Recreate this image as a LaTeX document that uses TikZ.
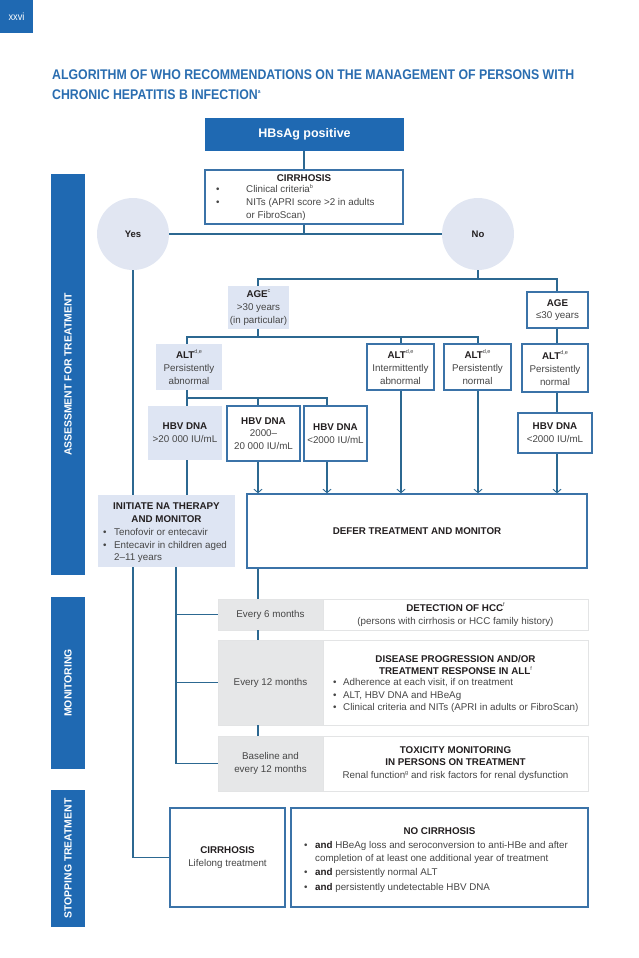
\documentclass[tikz,border=0pt]{standalone}
\usepackage{fontspec}
\setmainfont{Liberation Sans}
\newfontfamily\condfont[FakeStretch=0.88]{Liberation Sans}
\usetikzlibrary{arrows.meta}
\definecolor{whob}{HTML}{1F69B2}
\definecolor{titlec}{HTML}{2A6DB0}
\definecolor{linec}{HTML}{2C6891}
\definecolor{bord}{HTML}{3B73A8}
\definecolor{lightf}{HTML}{DEE5F3}
\definecolor{circf}{HTML}{E1E6F2}
\definecolor{grayf}{HTML}{E6E7E8}
\definecolor{grayb}{HTML}{E3E4E5}
\definecolor{txt}{HTML}{464646}
\definecolor{dark}{HTML}{231F20}
\newcommand{\bodyfs}{\fontsize{9.8}{12.8}\selectfont}
\newcommand{\hd}[1]{\textbf{\textcolor{dark}{#1}}}
\newcommand{\bul}[1]{\makebox[#1][l]{\textbullet}}
\newcommand{\sups}[1]{\raisebox{0.9ex}{\fontsize{5.5}{6}\selectfont #1}}
\begin{document}
\begin{tikzpicture}[x=1pt,y=-1pt,
  conn/.style={draw=linec, line width=1.1pt},
  arr/.style={conn, -{Straight Barb[length=3.5pt,width=8pt,line width=0.9pt]}},
  wbox/.style={draw=bord, line width=1.4pt, fill=white, inner sep=0pt, align=center, font=\bodyfs, text=txt},
  lbox/.style={fill=lightf, inner sep=0pt, align=center, font=\bodyfs, text=txt},
  gbox/.style={fill=grayf, draw=grayb, line width=0.8pt, inner sep=0pt, align=center, font=\bodyfs, text=txt},
  mbox/.style={fill=white, draw=grayb, line width=1pt, inner sep=0pt, align=center, font=\bodyfs, text=txt},
  txtnode/.style={inner sep=0pt, font=\bodyfs, text=txt},
  bar/.style={fill=whob, rotate=90, inner sep=0pt, minimum height=34pt, text=white, font=\bfseries\fontsize{10.4}{12}\selectfont},
  circ/.style={circle, fill=circf, minimum size=72pt, inner sep=0pt, text=dark, font=\bfseries\fontsize{9.5}{11}\selectfont}
]
\useasboundingbox (0,0) rectangle (638,958);

% page number and title
\node[fill=whob, minimum width=33pt, minimum height=33pt, inner sep=0pt, text=white, font=\condfont\fontsize{10.5}{11}\selectfont] (pg) at (16.5,17) {xxvi};
\node[anchor=west, inner sep=0pt, align=left, text=titlec, font=\condfont\bfseries\fontsize{14}{20}\selectfont] (title) at (52,85)
  {ALGORITHM OF WHO RECOMMENDATIONS ON THE MANAGEMENT OF PERSONS WITH\\CHRONIC HEPATITIS B INFECTION\sups{a}};

% side bars
\node[bar, minimum width=401pt] (bar1) at (68,374.5) {ASSESSMENT FOR TREATMENT};
\node[bar, minimum width=172pt] (bar2) at (68,683) {MONITORING};
\node[bar, minimum width=137pt] (bar3) at (68,858.5) {STOPPING TREATMENT};

% x positions of vertical connectors
\coordinate (xa) at (133,0);
\coordinate (xb) at (187,0);
\coordinate (xc) at (258,0);
\coordinate (xd) at (327,0);
\coordinate (xe) at (401,0);
\coordinate (xf) at (478,0);
\coordinate (xg) at (557,0);
\coordinate (xh) at (176,0);
\coordinate (xt) at (304,0);
\coordinate (h1) at (0,279);
\coordinate (h2) at (0,337);
\coordinate (h3) at (0,398);

% top
\node[fill=whob, minimum width=199pt, minimum height=33pt, inner sep=0pt, text=white, font=\bfseries\fontsize{12.5}{14}\selectfont] (hbs) at (304.5,134.5) {HBsAg positive};
\node[wbox, minimum width=198pt, minimum height=54pt] (cirr) at (304,197) {};
\node[txtnode] (cirrh) at (304,178) {\hd{CIRRHOSIS}};
\node[txtnode, anchor=north west, align=left] (cirrl) at (216,184)
  {\bul{30pt}Clinical criteria\sups{b}\\\bul{30pt}NITs (APRI score >2 in adults\\\hspace*{30pt}or FibroScan)};
\node[circ] (yes) at (133,234) {Yes};
\node[circ] (no) at (478,234) {No};
\draw[conn] (hbs.south -| xt) -- (cirr.north -| xt);
\draw[conn] (yes.east) -- (no.west);
\draw[conn] (cirr.south -| xt) -- (xt |- yes.east);

% age
\node[lbox, minimum width=61pt, minimum height=43pt] (age1) at (258.5,307.5) {\hd{AGE}\sups{c}\\>30 years\\(in particular)};
\node[wbox, minimum width=61pt, minimum height=36pt] (age2) at (557.5,310) {\hd{AGE}\\≤30 years};
\draw[conn] (no.south) -- (no.south |- h1);
\draw[conn] (age1.north -| xc) |- (xg |- h1) -- (age2.north -| xg);

% ALT
\node[lbox, minimum width=66pt, minimum height=46pt] (alt1) at (189,367) {\hd{ALT}\sups{d,e}\\Persistently\\abnormal};
\node[wbox, minimum width=67pt, minimum height=46pt] (alt2) at (400.5,367) {\hd{ALT}\sups{d,e}\\Intermittently\\abnormal};
\node[wbox, minimum width=67pt, minimum height=46pt] (alt3) at (477.5,367) {\hd{ALT}\sups{d,e}\\Persistently\\normal};
\node[wbox, minimum width=66pt, minimum height=48pt] (alt4) at (555,368) {\hd{ALT}\sups{d,e}\\Persistently\\normal};
\draw[conn] (age1.south -| xc) -- (xc |- h2);
\draw[conn] (alt1.north -| xb) |- (xf |- h2) -- (alt3.north -| xf);
\draw[conn] (xe |- h2) -- (alt2.north -| xe);
\draw[conn] (age2.south -| xg) -- (alt4.north -| xg);

% HBV DNA
\node[lbox, minimum width=74pt, minimum height=54pt] (hbv1) at (185,433) {\hd{HBV DNA}\\>20 000 IU/mL};
\node[wbox, minimum width=73pt, minimum height=55pt] (hbv2) at (263.5,433.5) {\hd{HBV DNA}\\2000–\\20 000 IU/mL};
\node[wbox, minimum width=63pt, minimum height=55pt] (hbv3) at (335.5,433.5) {\hd{HBV DNA}\\<2000 IU/mL};
\node[wbox, minimum width=74pt, minimum height=40pt] (hbv4) at (555,433) {\hd{HBV DNA}\\<2000 IU/mL};
\draw[conn] (alt1.south -| xb) -- (xb |- h3);
\draw[conn] (hbv1.north -| xb) |- (xd |- h3) -- (hbv3.north -| xd);
\draw[conn] (xc |- h3) -- (hbv2.north -| xc);
\draw[conn] (alt4.south -| xg) -- (hbv4.north -| xg);

% initiate / defer
\node[lbox, minimum width=137pt, minimum height=72pt] (init) at (166.5,531) {};
\node[txtnode, align=center] (inith) at (166.5,513) {\hd{INITIATE NA THERAPY}\\\hd{AND MONITOR}};
\node[txtnode, anchor=north west, align=left] (initl) at (103,528)
  {\bul{11pt}Tenofovir or entecavir\\\bul{11pt}Entecavir in children aged\\\hspace*{11pt}2–11 years};
\node[wbox, minimum width=340pt, minimum height=74pt] (defer) at (417,531) {\hd{DEFER TREATMENT AND MONITOR}};
\draw[conn] (yes.south) -- (yes.south |- init.north);
\draw[conn] (hbv1.south -| xb) -- (init.north -| xb);
\draw[arr] (hbv2.south -| xc) -- (defer.north -| xc);
\draw[arr] (hbv3.south -| xd) -- (defer.north -| xd);
\draw[arr] (alt2.south -| xe) -- (defer.north -| xe);
\draw[arr] (alt3.south -| xf) -- (defer.north -| xf);
\draw[arr] (hbv4.south -| xg) -- (defer.north -| xg);

% monitoring
\node[gbox, minimum width=105pt, minimum height=31pt] (m1l) at (270.5,614.5) {Every 6 months};
\node[mbox, minimum width=265pt, minimum height=31pt] (m1r) at (455.5,614.5) {\hd{DETECTION OF HCC}\sups{f}\\(persons with cirrhosis or HCC family history)};
\node[gbox, minimum width=105pt, minimum height=85pt] (m2l) at (270.5,682.5) {Every 12 months};
\node[mbox, minimum width=265pt, minimum height=85pt] (m2r) at (455.5,682.5) {};
\node[txtnode, align=center] (m2h) at (455.5,665) {\hd{DISEASE PROGRESSION AND/OR}\\\hd{TREATMENT RESPONSE IN ALL}\sups{f}};
\node[txtnode, anchor=north west, align=left] (m2b) at (333,678)
  {\bul{10pt}Adherence at each visit, if on treatment\\\bul{10pt}ALT, HBV DNA and HBeAg\\\bul{10pt}Clinical criteria and NITs (APRI in adults or FibroScan)};
\node[gbox, minimum width=105pt, minimum height=55pt] (m3l) at (270.5,763.5) {Baseline and\\every 12 months};
\node[mbox, minimum width=265pt, minimum height=55pt] (m3r) at (455.5,763.5) {\hd{TOXICITY MONITORING}\\\hd{IN PERSONS ON TREATMENT}\\Renal function\sups{g} and risk factors for renal dysfunction};
\draw[conn] (defer.south -| xc) -- (m1l.north -| xc);
\draw[conn] (m1l.south -| xc) -- (m2l.north -| xc);
\draw[conn] (m2l.south -| xc) -- (m3l.north -| xc);
\draw[conn] (init.south -| xh) |- (m3l.west);
\draw[conn] (m1l.west -| xh) -- (m1l.west);
\draw[conn] (m2l.west -| xh) -- (m2l.west);

% stopping
\node[wbox, minimum width=115pt, minimum height=99pt] (stopc) at (227.5,857.5) {\hd{CIRRHOSIS}\\Lifelong treatment};
\node[wbox, minimum width=297pt, minimum height=99pt] (stopn) at (439.5,857.5) {};
\node[txtnode] (stopnh) at (439.5,831.5) {\hd{NO CIRRHOSIS}};
\node[txtnode, anchor=north west, align=left] (stopnb) at (304,841)
  {\bul{11pt}\hd{and} HBeAg loss and seroconversion to anti-HBe and after\\\hspace*{11pt}completion of at least one additional year of treatment\\[2pt]\bul{11pt}\hd{and} persistently normal ALT\\[2pt]\bul{11pt}\hd{and} persistently undetectable HBV DNA};
\draw[conn] (init.south -| xa) |- (stopc.west);
\end{tikzpicture}
\end{document}
